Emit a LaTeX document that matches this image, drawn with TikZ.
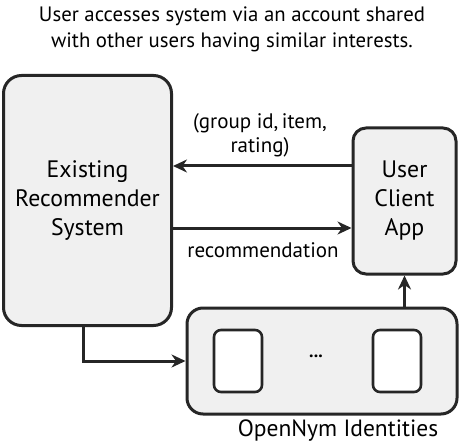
\documentclass[tikz,border=0pt]{standalone}
\usepackage{fontspec}
\setmainfont{PT Sans}
\usetikzlibrary{arrows.meta}

\tikzset{
    sysbox/.style={draw=black!85,fill=gray!12,line width=3pt,rounded corners=18pt,align=center,font=\fontsize{23.8}{29}\selectfont},
    idbox/.style={draw=black!85,fill=white,line width=2.6pt,rounded corners=7pt,minimum width=48pt,minimum height=62pt},
    flow/.style={line width=3pt,draw=black!85,-{Stealth[length=14pt,width=13pt,inset=4.5pt]}},
    lbl/.style={font=\fontsize{21}{24}\selectfont,align=center,inner sep=0pt}
}

\begin{document}
\begin{tikzpicture}[x=1pt,y=-1pt]
    \useasboundingbox (0,0) rectangle (462,446);
    %Titel
    \node[font=\fontsize{20.8}{26}\selectfont,align=center] (title) at (232,29) {User accesses system via an account shared\\with other users having similar interests.};

    %Boxen
    \node[sysbox,minimum width=168pt,minimum height=250pt] (rec) at (87.5,200.5) {Existing\\Recommender\\System};
    \node[sysbox,minimum width=103pt,minimum height=146pt,rounded corners=13pt] (app) at (404.5,201) {User\\Client\\App};
    \node[sysbox,minimum width=270pt,minimum height=106pt,rounded corners=16pt] (nym) at (322,361) {};
    \node[idbox] (id1) at (238,361) {};
    \node[idbox] (id2) at (397,361) {};
    \node[font=\fontsize{18}{22}\selectfont\bfseries] (dots) at (316,356) {...};
    \node[font=\fontsize{23.5}{26}\selectfont] (nymlbl) at (338,431) {OpenNym Identities};

    %Pfeile
    \draw[flow] (app.west |- 0,166) -- (rec.east |- 0,166);
    \node[lbl] (rating) at (260,135) {(group id,\,item,\\rating)};
    \draw[flow] (rec.east |- 0,228) -- (app.west |- 0,228);
    \node[lbl] (reco) at (263,250) {recommendation};
    \draw[flow] (nym.north -| app) -- (app.south);
    \draw[flow] (rec.south -| 83,0) |- (nym.west);
\end{tikzpicture}
\end{document}
